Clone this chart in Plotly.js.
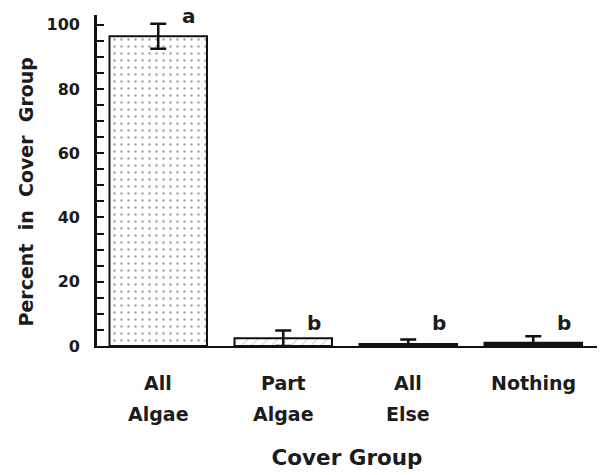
<!DOCTYPE html>
<html>
<head>
<meta charset="utf-8">
<script src="https://cdn.plot.ly/plotly-3.0.1.min.js"></script>
<style>html,body{margin:0;padding:0;background:#fff;}#chart{width:601px;height:475px;}</style>
</head>
<body>
<div id="chart"></div>
<script>
// Data
var categories = ["All Algae", "Part Algae", "All Else", "Nothing"];
var labelLines = [["All", "Algae"], ["Part", "Algae"], ["All", "Else"], ["Nothing", ""]];
var percentValues = [96.4, 2.4, 0.6, 1.0];
var errorValues = [3.9, 2.4, 1.4, 2.0];
var groupLetters = ["a", "b", "b", "b"];
var yAxisTitle = "Percent  in  Cover  Group";
var xAxisTitle = "Cover Group";

var patternShapes = [".", "/", "", ""];
var fillColors = ["#ffffff", "#ffffff", "#111111", "#111111"];

var FONT = "DejaVu Sans, Verdana, sans-serif";
var INK = "#111111";
var TXT = "#1c1c1c";

var trace = {
  type: "bar",
  x: categories,
  y: percentValues,
  width: 0.78,
  marker: {
    color: fillColors,
    line: {color: INK, width: 2},
    pattern: {shape: patternShapes, fgcolor: "#000000", size: 7, solidity: 0.1, fillmode: "overlay"}
  },
  error_y: {type: "data", array: errorValues, visible: true, color: INK, thickness: 2.5, width: 8},
  hoverinfo: "skip"
};

var groupTop = {};
groupLetters.forEach(function(g, i) {
  var top = percentValues[i] + errorValues[i];
  groupTop[g] = Math.max(groupTop[g] || 0, top);
});
var annotations = groupLetters.map(function(g, i) {
  return {
    x: categories[i], y: groupTop[g], xref: "x", yref: "y",
    text: g, showarrow: false, xanchor: "center", yanchor: "bottom",
    xshift: 31, yshift: -6,
    font: {family: FONT, size: 20, color: TXT, weight: "bold"}
  };
});
// two-line category labels below the axis
labelLines.forEach(function(lines, i) {
  lines.forEach(function(line, j) {
    if (!line) return;
    annotations.push({
      x: categories[i], y: 0, xref: "x", yref: "paper",
      text: line, showarrow: false, xanchor: "center", yanchor: "middle",
      yshift: -37 - 31 * j,
      font: {family: FONT, size: 19, color: TXT, weight: "bold"}
    });
  });
});
// y-axis title
annotations.push({
  x: 0, y: 0.5, xref: "paper", yref: "paper",
  text: yAxisTitle, showarrow: false, textangle: -90,
  xanchor: "center", yanchor: "middle", xshift: -72, yshift: -12,
  font: {family: FONT, size: 19, color: TXT, weight: "bold"}
});

var layout = {
  width: 601, height: 475,
  margin: {l: 97, r: 4, t: 15, b: 129},
  paper_bgcolor: "#ffffff", plot_bgcolor: "#ffffff",
  showlegend: false,
  font: {family: FONT, color: TXT},
  xaxis: {
    range: [-0.49, 3.51],
    showline: true, linecolor: INK, linewidth: 2,
    ticks: "", showgrid: false, zeroline: false,
    showticklabels: false,
    title: {text: xAxisTitle, font: {family: FONT, size: 21.5, color: TXT, weight: "bold"}, standoff: 103}
  },
  yaxis: {
    range: [0, 103],
    showline: true, linecolor: INK, linewidth: 2.5,
    ticks: "inside", ticklen: 7, tickwidth: 2, tickcolor: INK,
    tick0: 0, dtick: 20,
    minor: {dtick: 5, ticks: "inside", ticklen: 7, tickwidth: 2, tickcolor: INK},
    showgrid: false, zeroline: false,
    tickfont: {family: FONT, size: 16, color: TXT, weight: "bold"},
    ticksuffix: "\u00a0\u00a0"
  },
  annotations: annotations
};

Plotly.newPlot("chart", [trace], layout, {displayModeBar: false});
</script>
</body>
</html>
